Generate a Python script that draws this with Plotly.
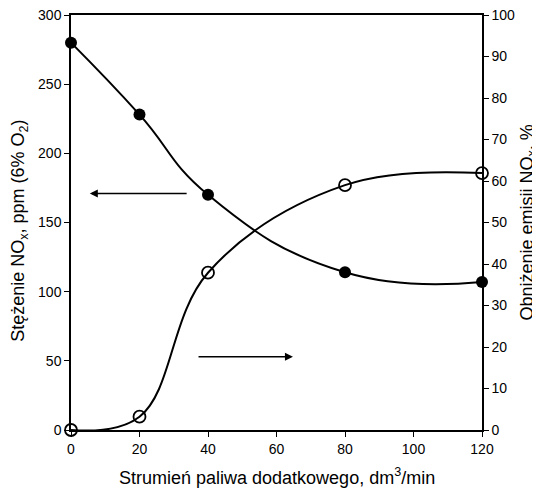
import plotly.graph_objects as go

flow = [0, 20, 40, 80, 120]
nox_ppm = [280, 228, 170, 114, 107]
reduction_pct = [0, 3.2, 37.9, 59.0, 61.9]

x_ticks = [0, 20, 40, 60, 80, 100, 120]
y_ticks = [0, 50, 100, 150, 200, 250, 300]
y2_ticks = [0, 10, 20, 30, 40, 50, 60, 70, 80, 90, 100]

FONT = "Liberation Sans, Arial, sans-serif"

fig = go.Figure()
fig.add_trace(go.Scatter(
    x=flow, y=nox_ppm, mode="lines+markers",
    line=dict(color="black", width=2, shape="spline", smoothing=1.3),
    marker=dict(symbol="circle", size=12, color="black"),
    cliponaxis=False, showlegend=False, yaxis="y"))
fig.add_trace(go.Scatter(
    x=flow, y=reduction_pct, mode="lines+markers",
    line=dict(color="black", width=2, shape="spline", smoothing=1.1),
    marker=dict(symbol="circle-open", size=12, color="black", line=dict(width=1.8)),
    cliponaxis=False, showlegend=False, yaxis="y2"))

# arrows indicating which axis each curve belongs to
fig.add_annotation(x=5.5, y=171, ax=34.2, ay=171, xref="x", yref="y", axref="x", ayref="y",
                   text="", showarrow=True, arrowhead=2, arrowsize=1, arrowwidth=1.6, arrowcolor="black")
fig.add_annotation(x=64.8, y=53, ax=36.8, ay=53, xref="x", yref="y", axref="x", ayref="y",
                   text="", showarrow=True, arrowhead=2, arrowsize=1, arrowwidth=1.6, arrowcolor="black")

# axis titles placed as annotations
fig.add_annotation(text="Strumień paliwa dodatkowego, dm<sup>3</sup>/min",
                   xref="paper", yref="paper", x=0.5, y=-0.111, yanchor="middle",
                   showarrow=False, font=dict(size=18))
fig.add_annotation(text="Stężenie NO<sub>x</sub>, ppm (6% O<sub>2</sub>)",
                   xref="paper", yref="paper", x=-0.124, y=0.48, xanchor="center", yanchor="middle",
                   textangle=-90, showarrow=False, font=dict(size=18))
fig.add_annotation(text="Obniżenie emisji NO<sub>x</sub>, %",
                   xref="paper", yref="paper", x=1.112, y=0.5, xanchor="center", yanchor="middle",
                   textangle=-90, showarrow=False, font=dict(size=18))

fig.update_layout(
    width=532, height=481,
    margin=dict(l=63, r=58, t=7, b=59),
    paper_bgcolor="white", plot_bgcolor="white",
    font=dict(family=FONT, color="black", size=14),
    xaxis=dict(range=[0, 120], tickvals=x_ticks, showgrid=False, zeroline=False,
               showline=True, linecolor="black", linewidth=1.5, mirror=True,
               ticks="outside", ticklen=5, tickcolor="black", automargin=False,
               ticklabeloverflow="allow"),
    yaxis=dict(range=[0, 300], tickvals=y_ticks, showgrid=False, zeroline=False,
               showline=True, linecolor="black", linewidth=1.5,
               ticks="outside", ticklen=5, tickcolor="black", automargin=False,
               ticklabeloverflow="allow"),
    yaxis2=dict(range=[0, 100], tickvals=y2_ticks, overlaying="y", side="right",
                showgrid=False, zeroline=False,
                showline=True, linecolor="black", linewidth=1.5,
                ticks="outside", ticklen=5, tickcolor="black", automargin=False,
                ticklabeloverflow="allow"),
)

fig.write_html("out.html")
